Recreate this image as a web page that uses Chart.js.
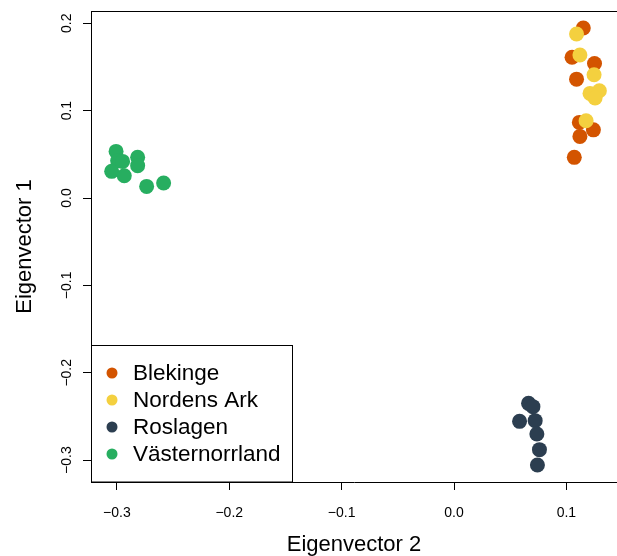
<!DOCTYPE html>
<html>
<head>
<meta charset="utf-8">
<script src="https://cdn.jsdelivr.net/npm/chart.js@4/dist/chart.umd.min.js"></script>
<style>
  body { margin: 0; background: #fff; }
  canvas { display: block; }
</style>
</head>
<body>
<canvas id="pca" width="617" height="556"></canvas>
<script>
"use strict";
// populations, in legend order
var groups = ['Blekinge', 'Nordens Ark', 'Roslagen', 'Västernorrland'];
var colours = ['#D35400', '#F4D03F', '#2C3E50', '#27AE60'];

// Eigenvector 2 (x) / Eigenvector 1 (y) per population
var blekingeX = [0.115, 0.105, 0.125, 0.109, 0.1115, 0.124, 0.112, 0.107];
var blekingeY = [0.1945, 0.161, 0.154, 0.136, 0.0865, 0.078, 0.0705, 0.0465];
var nordensX = [0.109, 0.112, 0.1246, 0.121, 0.1293, 0.1255, 0.1175];
var nordensY = [0.1876, 0.1636, 0.1411, 0.1197, 0.1228, 0.1144, 0.0884];
var roslagenX = [0.0663, 0.0702, 0.0583, 0.0722, 0.0737, 0.076, 0.0742];
var roslagenY = [-0.235, -0.2388, -0.2556, -0.2548, -0.27, -0.288, -0.3055];
var vasterX = [-0.3007, -0.2993, -0.2949, -0.2815, -0.2815, -0.3046, -0.2934, -0.2735, -0.2584];
var vasterY = [0.0533, 0.0427, 0.0419, 0.0465, 0.037, 0.0305, 0.0255, 0.0133, 0.0172];

var xTicks = [-0.3, -0.2, -0.1, 0.0, 0.1];
var yTicks = [-0.3, -0.2, -0.1, 0.0, 0.1, 0.2];

var FONT = '"Liberation Sans", Arial, Helvetica, sans-serif';

function pts(xs, ys) {
    return xs.map((x, i) => ({x: x, y: ys[i]}));
}
function fmt(v) {
    return v.toFixed(1).replace('-', '\u2212');
}
// no extra room for the end tick labels, the plot fills the frame
function noPad(s) {
    s.paddingTop = 0;
    s.paddingBottom = 0;
    s.paddingLeft = 0;
    s.paddingRight = 0;
}

var series = [pts(blekingeX, blekingeY), pts(nordensX, nordensY), pts(roslagenX, roslagenY), pts(vasterX, vasterY)];
// yellow sits on top of orange in the picture
var drawOrder = [1, 0, 2, 3];

// box round the plot (no right edge, it runs off the picture) and the legend
var frame = {
    id: 'frame',
    afterDraw: (chart) => {
        var ctx = chart.ctx, a = chart.chartArea;
        ctx.save();
        ctx.strokeStyle = '#000';
        ctx.lineWidth = 1;
        ctx.beginPath();
        ctx.moveTo(a.left, a.top + 0.5);
        ctx.lineTo(a.right, a.top + 0.5);
        ctx.stroke();

        var lx = a.left + 0.5, ly = 345.5, lw = 201, lh = a.bottom - ly;
        ctx.fillStyle = '#fff';
        ctx.fillRect(lx, ly, lw, lh);
        ctx.strokeRect(lx, ly, lw, lh);
        ctx.font = '22.5px ' + FONT;
        ctx.textBaseline = 'middle';
        chart.data.datasets.forEach((ds, i) => {
            var cy = 373 + i * 27;
            ctx.fillStyle = ds.backgroundColor;
            ctx.beginPath();
            ctx.arc(112, cy, 5.5, 0, Math.PI * 2);
            ctx.fill();
            ctx.fillStyle = '#000';
            ctx.fillText(ds.label, 133, cy + 1);
        });
        ctx.restore();
    }
};

new Chart(document.getElementById('pca'), {
    type: 'scatter',
    data: {
        datasets: groups.map((g, i) => ({
            label: g,
            data: series[i],
            backgroundColor: colours[i],
            borderWidth: 0,
            pointRadius: 7.5,
            order: drawOrder[i]
        }))
    },
    options: {
        responsive: false,
        animation: false,
        devicePixelRatio: 1,
        layout: {autoPadding: false, padding: {top: 11, right: 0, bottom: 0, left: 0}},
        plugins: {legend: {display: false}, tooltip: {enabled: false}},
        scales: {
            x: {
                type: 'linear',
                min: -0.323,
                max: 0.145,
                afterBuildTicks: (s) => { s.ticks = xTicks.map(v => ({value: v})); },
                afterFit: (s) => { s.height = 74; noPad(s); },
                border: {display: true, color: '#000', width: 1},
                grid: {display: true, drawOnChartArea: false, drawTicks: true, tickLength: 8, color: '#000'},
                ticks: {
                    color: '#000',
                    font: {family: FONT, size: 14},
                    padding: 15,
                    maxRotation: 0,
                    callback: (v) => fmt(v)
                },
                title: {
                    display: true,
                    text: 'Eigenvector 2',
                    color: '#000',
                    font: {family: FONT, size: 22},
                    padding: {top: 0, bottom: -2}
                }
            },
            y: {
                type: 'linear',
                min: -0.325,
                max: 0.214,
                afterBuildTicks: (s) => { s.ticks = yTicks.map(v => ({value: v})); },
                afterFit: (s) => { s.width = 91; noPad(s); },
                border: {display: true, color: '#000', width: 1},
                grid: {display: true, drawOnChartArea: false, drawTicks: true, tickLength: 8, color: '#000'},
                ticks: {
                    color: '#000',
                    font: {family: FONT, size: 14},
                    padding: 2.5,
                    minRotation: 90,
                    maxRotation: 90,
                    crossAlign: 'center',
                    callback: (v) => fmt(v)
                },
                title: {
                    display: true,
                    text: 'Eigenvector 1',
                    color: '#000',
                    font: {family: FONT, size: 22},
                    padding: {top: 12, bottom: 0}
                }
            }
        }
    },
    plugins: [frame]
});
</script>
</body>
</html>
